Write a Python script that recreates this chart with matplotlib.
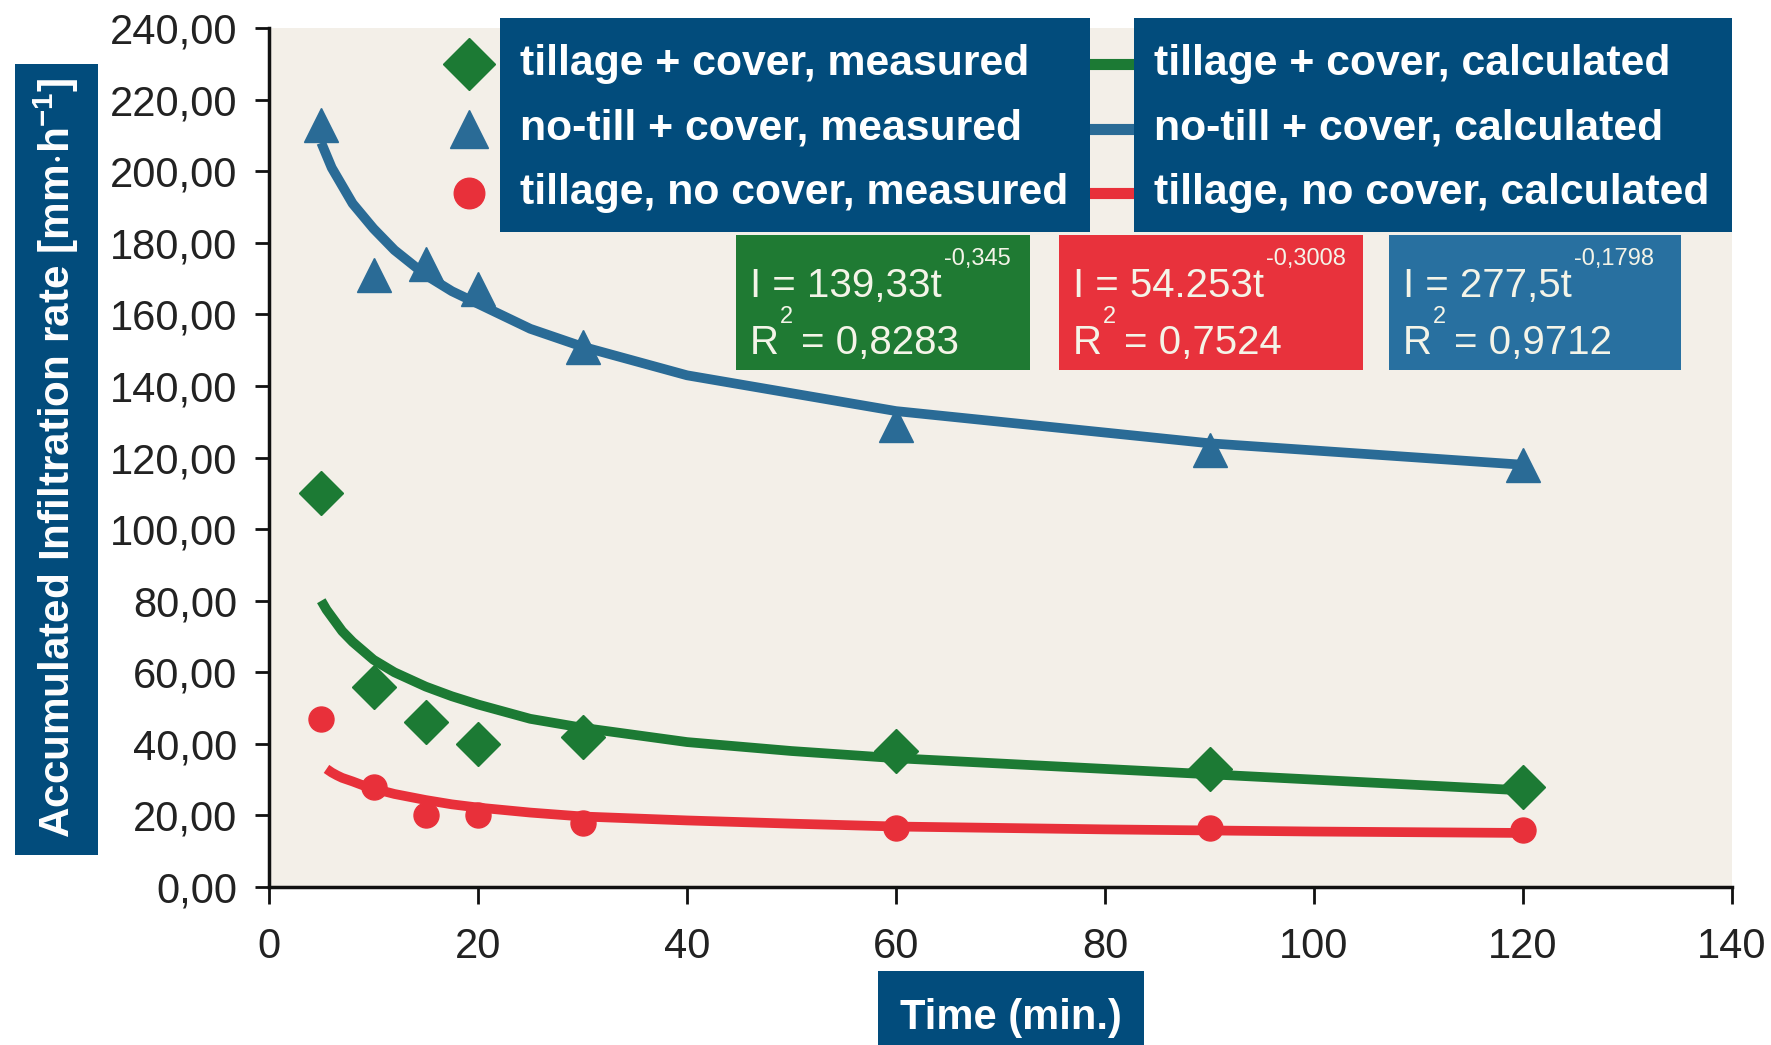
import matplotlib
matplotlib.use("Agg")
from matplotlib import pyplot as plt
from matplotlib.patches import Rectangle
from matplotlib.lines import Line2D
from matplotlib.ticker import FuncFormatter

plt.rcParams['font.family'] = ['Liberation Sans', 'DejaVu Sans']
plt.rcParams['mathtext.fontset'] = 'custom'
plt.rcParams['mathtext.rm'] = 'Liberation Sans'
plt.rcParams['mathtext.bf'] = 'Liberation Sans:bold'

# measured points
tiempo = [5, 10, 15, 20, 30, 60, 90, 120]
notill_cover = [213, 171, 174, 167, 151, 129, 122, 118]
tillage_cover = [110, 56, 46, 40, 42, 38, 33, 28]
tillage_nocover = [47, 28, 20, 20, 18, 16.5, 16.5, 16]

# calculated curves
curva_t = [5, 5.5, 6, 6.5, 7, 8, 9, 10, 12, 15, 17.5, 20, 25, 30, 40, 50, 60, 70, 80, 90, 100, 110, 120]
notill_cover_calc = [208, 204.5, 201, 198.5, 196, 191, 187.5, 184, 178, 171, 166.5, 163, 156, 151, 143, 138,
                     133, 130, 127, 124, 122, 120, 118]
tillage_cover_calc = [80, 77.5, 75.5, 73.5, 71.5, 68.5, 66, 63.5, 60, 56, 53.3, 51, 47, 44.5, 40.5, 38,
                      36, 34.5, 33, 31.5, 30, 28.5, 27]
curva_t_rojo = [5.5, 6, 6.5, 7, 8, 9, 10, 12, 15, 17.5, 20, 25, 30, 40, 50, 60, 70, 80, 90, 100, 110, 120]
tillage_nocover_calc = [33, 32, 31.2, 30.5, 29.5, 28.4, 27.5, 26, 24.3, 23.1, 22.2, 20.8, 19.7, 18.6, 17.7,
                        16.9, 16.5, 16.1, 15.8, 15.5, 15.3, 15.1]

etiquetas_medido = ["tillage + cover, measured", "no-till + cover, measured", "tillage, no cover, measured"]
etiquetas_calc = ["tillage + cover, calculated", "no-till + cover, calculated", "tillage, no cover, calculated"]
ecuaciones = ["I = 139,33t", "I = 54.253t", "I = 277,5t"]
exponentes = ["-0,345", "-0,3008", "-0,1798"]
r2 = ["= 0,8283", "= 0,7524", "= 0,9712"]

verde = '#1c7a34'
azul = '#2a6b96'
rojo = '#e8303a'
azul_osc = '#024c7c'

fig = plt.figure(figsize=(17.71, 10.45), dpi=100)
ax = fig.add_axes([0.1519, 0.1512, 0.8261, 0.8218])
ax.set_facecolor('#f3efe8')

ax.plot(tiempo, notill_cover, '^', color=azul, ms=24, zorder=2)
ax.plot(tiempo, tillage_cover, 'D', color=verde, ms=22, zorder=2)
ax.plot(tiempo, tillage_nocover, 'o', color=rojo, ms=18, zorder=2)
ax.plot(curva_t, notill_cover_calc, '-', color=azul, lw=7, solid_capstyle='butt', zorder=3)
ax.plot(curva_t, tillage_cover_calc, '-', color=verde, lw=7, solid_capstyle='butt', zorder=3)
ax.plot(curva_t_rojo, tillage_nocover_calc, '-', color=rojo, lw=7, solid_capstyle='butt', zorder=3)

ax.set_xlim(0, 140)
ax.set_ylim(0, 240)
ax.set_xticks(range(0, 141, 20))
ax.set_yticks(range(0, 241, 20))
ax.yaxis.set_major_formatter(FuncFormatter(lambda v, p: f"{v:.2f}".replace('.', ',')))
ax.tick_params(axis='both', labelsize=30, labelcolor='#222222', width=2, length=10, color='#111111')
ax.tick_params(axis='y', pad=13)
ax.tick_params(axis='x', pad=17, length=12)
for lado in ['top', 'right']:
    ax.spines[lado].set_visible(False)
for lado in ['left', 'bottom']:
    ax.spines[lado].set_linewidth(2.5)
    ax.spines[lado].set_color('#111111')

# legend (manual boxes)
filas_y = [0.9388, 0.8766, 0.8153]
fig.add_artist(Rectangle((0.2823, 0.778), 0.3331, 0.2048, transform=fig.transFigure,
                         facecolor=azul_osc, edgecolor='none', zorder=5))
fig.add_artist(Rectangle((0.6403, 0.778), 0.3377, 0.2048, transform=fig.transFigure,
                         facecolor=azul_osc, edgecolor='none', zorder=5))
marcadores = [('D', verde, 26), ('^', azul, 28), ('o', rojo, 22)]
colores_linea = [verde, azul, rojo]
for i in range(3):
    m, c, s = marcadores[i]
    fig.add_artist(Line2D([0.2648], [filas_y[i]], marker=m, color=c, ms=s,
                          transform=fig.transFigure, zorder=4))
    fig.add_artist(Line2D([0.617, 0.66], [filas_y[i], filas_y[i]], color=colores_linea[i], lw=8,
                          transform=fig.transFigure, zorder=4))
    fig.text(0.2936, filas_y[i], etiquetas_medido[i], color='white', fontsize=30.8,
             fontweight='bold', va='center', ha='left', zorder=6)
    fig.text(0.6516, filas_y[i], etiquetas_calc[i], color='white', fontsize=30.8,
             fontweight='bold', va='center', ha='left', zorder=6)

# equation boxes
cajas_x = [(0.4156, 0.1660), (0.5980, 0.1717), (0.7843, 0.1649)]
colores_caja = ['#1f7a33', '#e8323c', '#2870a0']
blanco = '#f4f4e8'
renderer = fig.canvas.get_renderer()
for i in range(3):
    x0, w = cajas_x[i]
    fig.add_artist(Rectangle((x0, 0.646), w, 0.1292, transform=fig.transFigure,
                             facecolor=colores_caja[i], edgecolor='none', zorder=5))
    t1 = fig.text(x0 + 0.008, 0.726, ecuaciones[i], color=blanco, fontsize=29,
                  va='center', ha='left', zorder=6)
    x1 = t1.get_window_extent(renderer).x1 / fig.bbox.width
    fig.text(x1 + 0.001, 0.752, exponentes[i], color=blanco, fontsize=17,
             va='center', ha='left', zorder=6)
    t2 = fig.text(x0 + 0.008, 0.672, "R", color=blanco, fontsize=29,
                  va='center', ha='left', zorder=6)
    x2 = t2.get_window_extent(renderer).x1 / fig.bbox.width
    fig.text(x2 + 0.0005, 0.697, "2", color=blanco, fontsize=17,
             va='center', ha='left', zorder=6)
    fig.text(x2 + 0.0125, 0.672, r2[i], color=blanco, fontsize=29,
             va='center', ha='left', zorder=6)

# axis titles in dark boxes
fig.add_artist(Rectangle((0.0085, 0.1818), 0.0469, 0.757, transform=fig.transFigure,
                         facecolor=azul_osc, edgecolor='none', zorder=5))
fig.text(0.0316, 0.5617, r"Accumulated Infiltration rate [mm$\cdot$h$^{\mathbf{-1}}$]", color='white',
         fontsize=30.4, fontweight='bold', rotation=90, va='center', ha='center', zorder=6)
fig.add_artist(Rectangle((0.4958, 0.0), 0.1502, 0.0708, transform=fig.transFigure,
                         facecolor=azul_osc, edgecolor='none', zorder=5))
fig.text(0.5709, 0.0258, "Time (min.)", color='white', fontsize=30, fontweight='bold',
         va='center', ha='center', zorder=6)

fig.savefig('out.png', dpi=100)
